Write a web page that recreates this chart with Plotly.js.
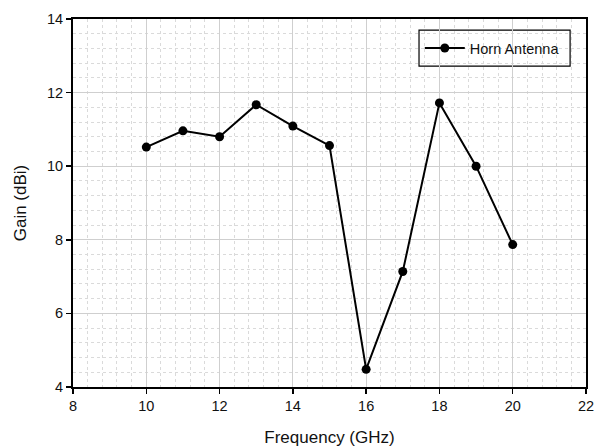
<!DOCTYPE html>
<html>
<head>
<meta charset="utf-8">
<script src="https://cdn.plot.ly/plotly-3.0.1.min.js"></script>
<style>html,body{margin:0;padding:0;background:#fff;}#chart{width:597px;height:448px;}</style>
</head>
<body>
<div id="chart"></div>
<script>
const freq = [10, 11, 12, 13, 14, 15, 16, 17, 18, 19, 20];
const gain = [10.52, 10.96, 10.8, 11.67, 11.09, 10.56, 4.48, 7.14, 11.72, 10.0, 7.87];
const seriesName = 'Horn Antenna';
const xTitle = 'Frequency (GHz)';
const yTitle = 'Gain (dBi)';

const trace = {
  x: freq, y: gain, name: seriesName, type: 'scatter', mode: 'lines+markers',
  line: {color: '#000', width: 2},
  marker: {color: '#000', size: 9}
};
const layout = {
  width: 597, height: 448,
  margin: {l: 73, r: 11, t: 19, b: 61},
  paper_bgcolor: '#fff', plot_bgcolor: '#fff',
  font: {family: 'Liberation Sans, Arial, sans-serif', color: '#111', size: 14.5},
  showlegend: true,
  legend: {x: 0.676, y: 0.921, xanchor: 'left', yanchor: 'middle', borderwidth: 0,
    bgcolor: 'rgba(0,0,0,0)', font: {size: 14.5, color: '#111'}, itemwidth: 40},
  shapes: [{type: 'rect', xref: 'paper', yref: 'paper', x0: 0.6745, x1: 0.969, y0: 0.872, y1: 0.970,
    line: {color: '#000', width: 1.2}, fillcolor: '#fff', layer: 'below'}],
  xaxis: {
    range: [8, 22], dtick: 2, tick0: 8, showline: true, linecolor: '#000', linewidth: 2, mirror: true,
    ticks: 'outside', ticklen: 5, tickcolor: '#000', tickwidth: 1.5,
    showgrid: true, gridcolor: '#cfcfcf', gridwidth: 1, zeroline: false,
    minor: {dtick: 0.4, tick0: 8, showgrid: true, gridcolor: '#dadada', griddash: 'dot', gridwidth: 1},
    title: {text: xTitle, font: {size: 17}, standoff: 18}
  },
  yaxis: {
    range: [4, 14], dtick: 2, tick0: 4, showline: true, linecolor: '#000', linewidth: 2, mirror: true,
    ticks: 'outside', ticklen: 5, tickcolor: '#000', tickwidth: 1.5,
    showgrid: true, gridcolor: '#cfcfcf', gridwidth: 1, zeroline: false,
    minor: {dtick: 0.4, tick0: 4, showgrid: true, gridcolor: '#dadada', griddash: 'dot', gridwidth: 1},
    title: {text: yTitle, font: {size: 17}, standoff: 16}
  }
};
Plotly.newPlot('chart', [trace], layout, {displayModeBar: false, staticPlot: true});
</script>
</body>
</html>
